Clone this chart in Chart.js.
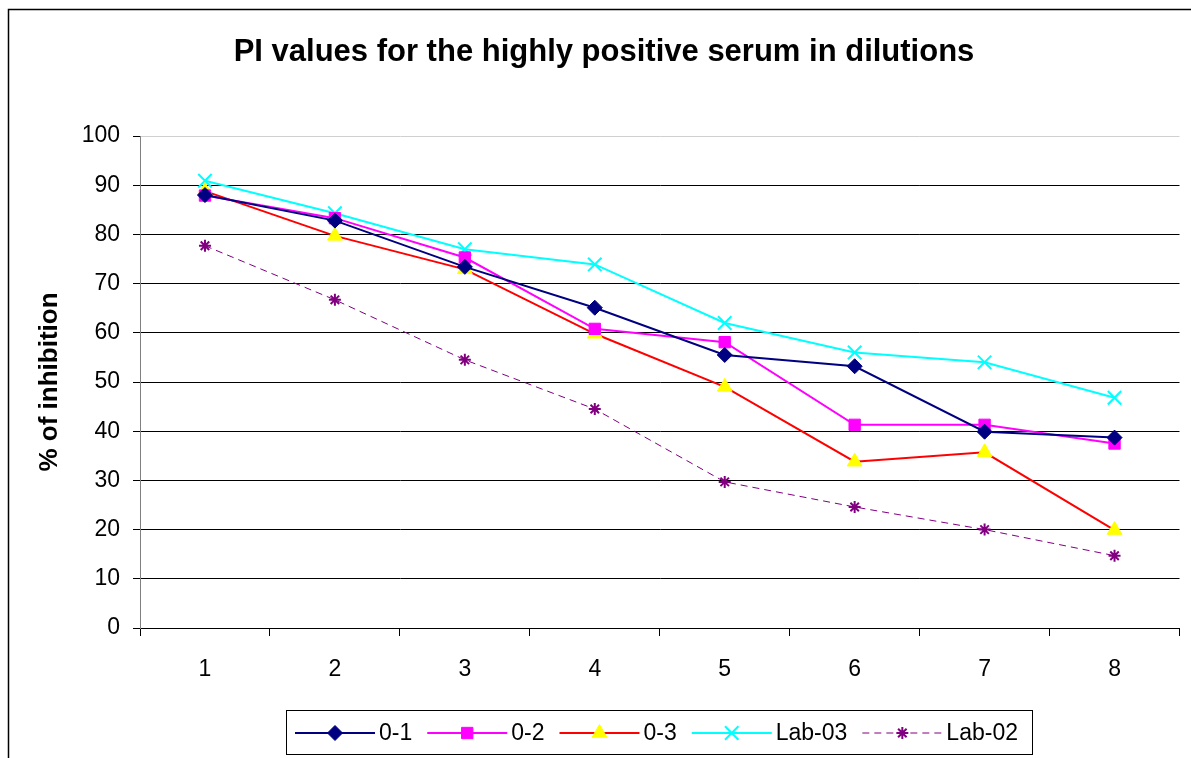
<!DOCTYPE html>
<html>
<head>
<meta charset="utf-8">
<title>PI values</title>
<script src="https://cdn.jsdelivr.net/npm/chart.js"></script>
<style>
html, body { margin:0; padding:0; background:#fff }
#wrap { width:1191px; height:758px; position:relative }
</style>
</head>
<body>
<div id="wrap"><canvas id="chart"></canvas></div>
<script>
// ===== DATA =====
const dilutions = ["1", "2", "3", "4", "5", "6", "7", "8"];
const s01   = [88.0, 82.8, 73.4, 65.1, 55.5, 53.2, 39.9, 38.7];
const s02   = [87.9, 83.3, 75.3, 60.8, 58.1, 41.3, 41.3, 37.5];
const s03   = [88.8, 79.7, 72.9, 59.8, 49.0, 33.8, 35.7, 19.9];
const lab03 = [90.9, 84.3, 77.0, 73.9, 62.0, 56.0, 54.0, 46.8];
const lab02 = [77.7, 66.7, 54.5, 44.5, 29.7, 24.6, 20.0, 14.7];
const yTicks = [0, 10, 20, 30, 40, 50, 60, 70, 80, 90, 100];

const FONT = '"Liberation Sans", Arial, sans-serif';

// white page + outer chart border
const frame = {
  id: 'frame',
  beforeDraw(chart) {
    const ctx = chart.ctx;
    ctx.save();
    ctx.fillStyle = '#fff';
    ctx.fillRect(0, 0, chart.width, chart.height);
    ctx.strokeStyle = '#000';
    ctx.lineWidth = 1.5;
    ctx.strokeRect(8.5, 9.5, 1220, 800);
    ctx.restore();
  }
};

// legend drawn in a box like the original
const boxLegend = {
  id: 'boxLegend',
  afterDraw(chart) {
    const ctx = chart.ctx;
    ctx.save();
    ctx.strokeStyle = '#000';
    ctx.lineWidth = 1;
    ctx.strokeRect(286.5, 710.5, 746, 44);
    ctx.font = '23px ' + FONT;
    ctx.textBaseline = 'middle';
    let x = 295;
    const y = 733;
    chart.data.datasets.forEach(ds => {
      ctx.strokeStyle = ds.borderColor;
      ctx.lineWidth = ds.borderWidth;
      ctx.setLineDash(ds.borderDash || []);
      ctx.beginPath();
      ctx.moveTo(x, y);
      ctx.lineTo(x + 80, y);
      ctx.stroke();
      ctx.setLineDash([]);
      ctx.fillStyle = ds.pointBackgroundColor;
      ctx.strokeStyle = ds.pointBorderColor;
      ctx.lineWidth = ds.pointBorderWidth;
      Chart.helpers.drawPoint(ctx, {
        pointStyle: ds.pointStyle,
        radius: ds.pointRadius,
        rotation: 0,
        borderWidth: ds.pointBorderWidth
      }, x + 40, y);
      ctx.fillStyle = '#000';
      ctx.fillText(ds.label, x + 84, y + 1);
      x += 84 + ctx.measureText(ds.label).width + 15;
    });
    ctx.restore();
  }
};

function series(label, data, line, fill, stroke, style, r, extra) {
  return Object.assign({
    label: label,
    data: data,
    borderColor: line,
    borderWidth: 2,
    pointStyle: style,
    pointRadius: r,
    pointHoverRadius: r,
    pointBackgroundColor: fill,
    pointBorderColor: stroke,
    pointBorderWidth: 1,
    tension: 0,
    fill: false
  }, extra || {});
}

new Chart(document.getElementById("chart"), {
  type: 'line',
  data: {
    labels: dilutions,
    datasets: [
      series('0-1', s01, '#000080', '#000080', '#000080', 'rectRot', 7.5),
      series('0-2', s02, '#FF00FF', '#FF00FF', '#FF00FF', 'rect', 8),
      series('0-3', s03, '#FF0000', '#FFFF00', '#FFFF00', 'triangle', 8.5),
      series('Lab-03', lab03, '#00FFFF', '#00FFFF', '#00FFFF', 'crossRot', 9.5, { pointBorderWidth: 2 }),
      series('Lab-02', lab02, '#800080', '#800080', '#800080', 'star', 6,
        { borderWidth: 1, borderDash: [7, 5], pointBorderWidth: 2 })
    ]
  },
  options: {
    responsive: true,
    maintainAspectRatio: false,
    animation: false,
    layout: { padding: { left: 28, right: 11, top: 0, bottom: 0 } },
    plugins: {
      legend: { display: false },
      tooltip: { enabled: false },
      title: {
        display: true,
        text: 'PI values for the highly positive serum in dilutions',
        color: '#000',
        font: { family: FONT, size: 31, weight: 'bold' },
        padding: { top: 33.4, bottom: 65.4 }
      }
    },
    scales: {
      x: {
        offset: true,
        grid: { offset: true, drawOnChartArea: false, drawTicks: true, tickLength: 8, tickColor: '#000' },
        border: { color: '#000', width: 1 },
        ticks: { color: '#000', font: { family: FONT, size: 23 }, padding: 20, maxRotation: 0 },
        afterFit(s) { s.height = 130; }
      },
      y: {
        min: 0,
        max: 100,
        afterBuildTicks(s) { s.ticks = yTicks.map(v => ({ value: v })); },
        grid: {
          color: c => c.tick && c.tick.value === 100 ? '#d0d0d0' : '#000',
          lineWidth: 1,
          tickLength: 7,
          tickColor: '#000'
        },
        border: { color: '#808080', width: 1 },
        ticks: { color: '#000', font: { family: FONT, size: 23 }, padding: 13 },
        title: {
          display: true,
          text: '% of inhibition',
          color: '#000',
          font: { family: FONT, size: 26, weight: 'bold' },
          padding: { top: 6.4, bottom: 0 }
        },
        afterFit(s) { s.width = 112; }
      }
    }
  },
  plugins: [frame, boxLegend]
});
</script>
</body>
</html>
